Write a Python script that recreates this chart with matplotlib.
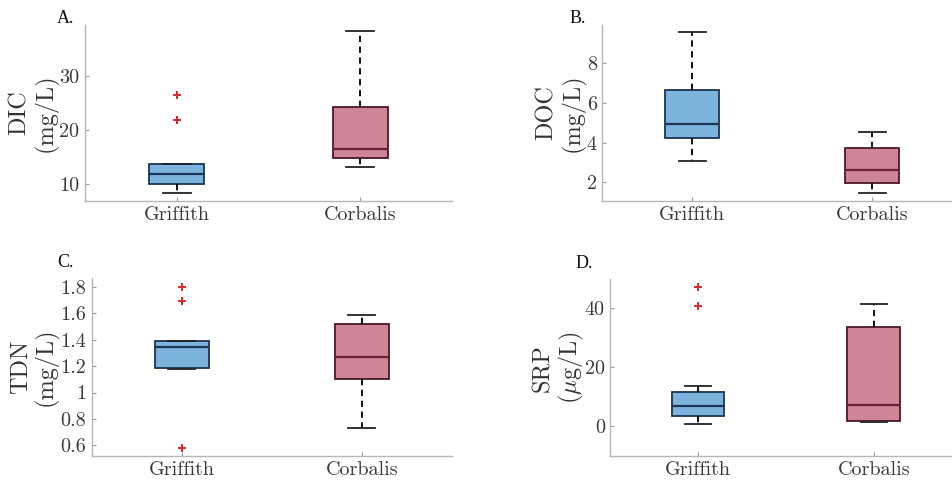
import matplotlib
matplotlib.use("Agg")
import matplotlib.pyplot as plt

plt.rcParams['font.family'] = 'cmr10'
plt.rcParams['mathtext.fontset'] = 'cm'
plt.rcParams['axes.formatter.use_mathtext'] = True

sites = ["Griffith", "Corbalis"]

# box statistics per panel: [Griffith, Corbalis]
dic_q1 = [9.9, 14.85]
dic_med = [11.85, 16.5]
dic_q3 = [13.65, 24.3]
dic_lo = [8.3, 13.05]
dic_hi = [13.65, 38.3]
dic_out = [[26.45, 21.85], []]

doc_q1 = [4.23, 1.98]
doc_med = [4.92, 2.62]
doc_q3 = [6.67, 3.71]
doc_lo = [3.07, 1.46]
doc_hi = [9.58, 4.55]
doc_out = [[], []]

tdn_q1 = [1.188, 1.101]
tdn_med = [1.346, 1.269]
tdn_q3 = [1.387, 1.518]
tdn_lo = [1.175, 0.728]
tdn_hi = [1.387, 1.588]
tdn_out = [[1.80, 1.694, 0.577], []]

srp_q1 = [3.4, 1.8]
srp_med = [6.9, 7.0]
srp_q3 = [11.6, 33.5]
srp_lo = [0.6, 1.45]
srp_hi = [13.5, 41.3]
srp_out = [[47.1, 40.6], []]

blue_fill, blue_edge = '#7db4de', '#1c3552'
red_fill, red_edge = '#d08596', '#4a1826'
red_median = '#6e1e36'


def make_stats(q1, med, q3, lo, hi, out):
    return [dict(q1=q1[i], med=med[i], q3=q3[i], whislo=lo[i], whishi=hi[i],
                 fliers=out[i], label=sites[i]) for i in range(2)]


def draw_panel(ax, stats, ylim, yticks, ytlabels, ylabel, letter, lx, ly):
    bp = ax.bxp(stats, positions=[1, 2], widths=0.3, patch_artist=True,
                showfliers=True, capwidths=0.15,
                whiskerprops=dict(color='black', linestyle=(0, (3.5, 2.5)), linewidth=1.3),
                capprops=dict(color='#222222', linewidth=1.3),
                flierprops=dict(marker='+', markeredgecolor='#d42a2a', markersize=6,
                                markeredgewidth=1.4, linestyle='none'))
    fills = [blue_fill, red_fill]
    edges = [blue_edge, red_edge]
    meds = [blue_edge, red_median]
    for i in range(2):
        bp['boxes'][i].set_facecolor(fills[i])
        bp['boxes'][i].set_edgecolor(edges[i])
        bp['boxes'][i].set_linewidth(1.3)
        bp['medians'][i].set_color(meds[i])
        bp['medians'][i].set_linewidth(1.6)
    ax.set_xlim(0.5, 2.5)
    ax.set_ylim(*ylim)
    ax.set_yticks(yticks)
    ax.set_yticklabels(ytlabels)
    ax.set_xticks([1, 2])
    ax.set_xticklabels(sites)
    for s in ['top', 'right']:
        ax.spines[s].set_visible(False)
    for s in ['left', 'bottom']:
        ax.spines[s].set_color('#b5b5b5')
        ax.spines[s].set_linewidth(1.0)
    ax.tick_params(direction='in', length=3, color='#9a9a9a', labelsize=14.5,
                   labelcolor='#3a3a3a', pad=4)
    ax.text(lx, 0.5, ylabel, transform=ax.transAxes, rotation=90, ha='center',
            va='center', fontsize=17.5, color='#333333', linespacing=1.1,
            multialignment='center')
    ax.text(ly[0], ly[1], letter, transform=ax.transAxes, family='Liberation Serif',
            fontsize=13, ha='left', va='center', color='#111111')


fig = plt.figure(figsize=(9.52, 4.83), dpi=100)
axA = fig.add_axes([0.0893, 0.5839, 0.3855, 0.3644])
axB = fig.add_axes([0.6327, 0.5839, 0.3778, 0.3644])
axC = fig.add_axes([0.0963, 0.0559, 0.3782, 0.3679])
axD = fig.add_axes([0.6411, 0.0559, 0.3690, 0.3658])

draw_panel(axA, make_stats(dic_q1, dic_med, dic_q3, dic_lo, dic_hi, dic_out),
           (6.8, 39.5), [10, 20, 30], ['10', '20', '30'], 'DIC\n(mg/L)', 'A.',
           -0.14, (-0.077, 1.034))
draw_panel(axB, make_stats(doc_q1, doc_med, doc_q3, doc_lo, doc_hi, doc_out),
           (1.06, 9.93), [2, 4, 6, 8], ['2', '4', '6', '8'], 'DOC\n(mg/L)', 'B.',
           -0.116, (-0.09, 1.034))
draw_panel(axC, make_stats(tdn_q1, tdn_med, tdn_q3, tdn_lo, tdn_hi, tdn_out),
           (0.52, 1.864), [0.6, 0.8, 1.0, 1.2, 1.4, 1.6, 1.8],
           ['0.6', '0.8', '1', '1.2', '1.4', '1.6', '1.8'], 'TDN\n(mg/L)', 'C.',
           -0.16, (-0.096, 1.09))
draw_panel(axD, make_stats(srp_q1, srp_med, srp_q3, srp_lo, srp_hi, srp_out),
           (-10.1, 49.6), [0, 20, 40], ['0', '20', '40'], 'SRP\n($\\mu$g/L)', 'D.',
           -0.146, (-0.10, 1.09))

fig.savefig("out.png", dpi=100)
